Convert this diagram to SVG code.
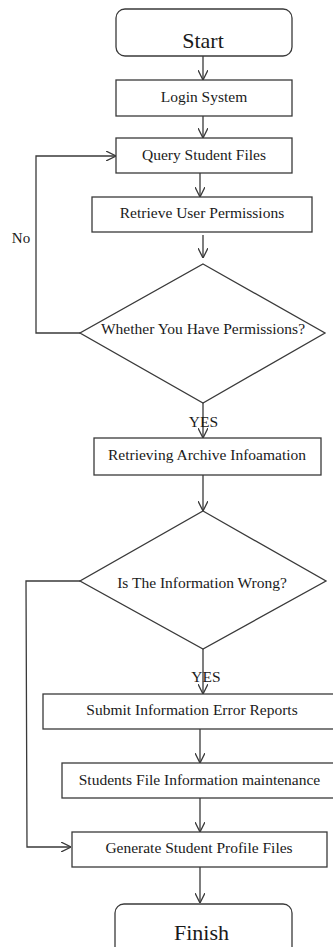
<svg xmlns="http://www.w3.org/2000/svg" width="333" height="947" viewBox="0 0 333 947">
<style>
.box{fill:#fff;stroke:#3a3a3a;stroke-width:1.3}
.t{font-family:"Liberation Serif","Times New Roman",serif;font-size:15.5px;fill:#1a1a1a;text-anchor:middle}
.big{font-size:22px}
.c{fill:none;stroke:#3a3a3a;stroke-width:1.3}
</style>
<defs>
<marker id="ah" viewBox="0 0 10 10" refX="10" refY="5" markerWidth="10" markerHeight="10" markerUnits="userSpaceOnUse" orient="auto">
<path d="M0,0 L10,5 L0,10" fill="none" stroke="#3a3a3a" stroke-width="1.3"/>
</marker>
</defs>
<rect width="333" height="947" fill="#fff"/>
<g id="connectors">
<line class="c" x1="203" y1="56" x2="203" y2="80" marker-end="url(#ah)"/>
<line class="c" x1="203" y1="116" x2="203" y2="138" marker-end="url(#ah)"/>
<polyline class="c" points="80,333 36,333 36,156 116,156" marker-end="url(#ah)"/>
<line class="c" x1="200" y1="173" x2="200" y2="197" marker-end="url(#ah)"/>
<line class="c" x1="203" y1="235" x2="203" y2="258" marker-end="url(#ah)"/>
<line class="c" x1="203" y1="403" x2="203" y2="438" marker-end="url(#ah)"/>
<line class="c" x1="203" y1="475" x2="203" y2="511" marker-end="url(#ah)"/>
<polyline class="c" points="80,581 26,581 27,847 71,847" marker-end="url(#ah)"/>
<line class="c" x1="203" y1="649" x2="203" y2="694" marker-end="url(#ah)"/>
<line class="c" x1="200" y1="729" x2="200" y2="763" marker-end="url(#ah)"/>
<line class="c" x1="200" y1="798" x2="200" y2="832" marker-end="url(#ah)"/>
<line class="c" x1="200" y1="867" x2="200" y2="903" marker-end="url(#ah)"/>
<text class="t" x="21" y="243" style="font-size:15px">No</text>
<text class="t" x="203.5" y="427">YES</text>
<text class="t" x="206" y="682">YES</text>
</g>
<g id="start">
<rect class="box" x="116" y="9" width="176" height="47" rx="9"/>
<text class="t big" x="203" y="48">Start</text>
</g>
<g id="login">
<rect class="box" x="116" y="80" width="176" height="36"/>
<text class="t" x="204" y="102">Login System</text>
</g>
<g id="query">
<rect class="box" x="116" y="138" width="176" height="35"/>
<text class="t" x="204" y="160">Query Student Files</text>
</g>
<g id="retrieve">
<rect class="box" x="92" y="197" width="220" height="35"/>
<text class="t" x="202" y="218">Retrieve User Permissions</text>
</g>
<g id="decision1">
<polygon class="box" points="203,264 325,333 203,403 80,333"/>
<text class="t" x="203" y="334">Whether You Have Permissions?</text>
</g>
<g id="retrieving">
<rect class="box" x="94" y="438" width="227" height="37"/>
<text class="t" x="207" y="460">Retrieving Archive Infoamation</text>
</g>
<g id="decision2">
<polygon class="box" points="203,511 326,581 203,649 80,581"/>
<text class="t" x="202" y="588">Is The Information Wrong?</text>
</g>
<g id="submit">
<rect class="box" x="43" y="694" width="295" height="35"/>
<text class="t" x="192" y="715">Submit Information Error Reports</text>
</g>
<g id="maintenance">
<rect class="box" x="62" y="763" width="275" height="35"/>
<text class="t" x="199.5" y="785">Students File Information maintenance</text>
</g>
<g id="generate">
<rect class="box" x="72" y="832" width="255" height="35"/>
<text class="t" x="199" y="853">Generate Student Profile Files</text>
</g>
<g id="finish">
<rect class="box" x="115" y="904" width="177" height="60" rx="9"/>
<text class="t big" x="201.5" y="940">Finish</text>
</g>
</svg>
